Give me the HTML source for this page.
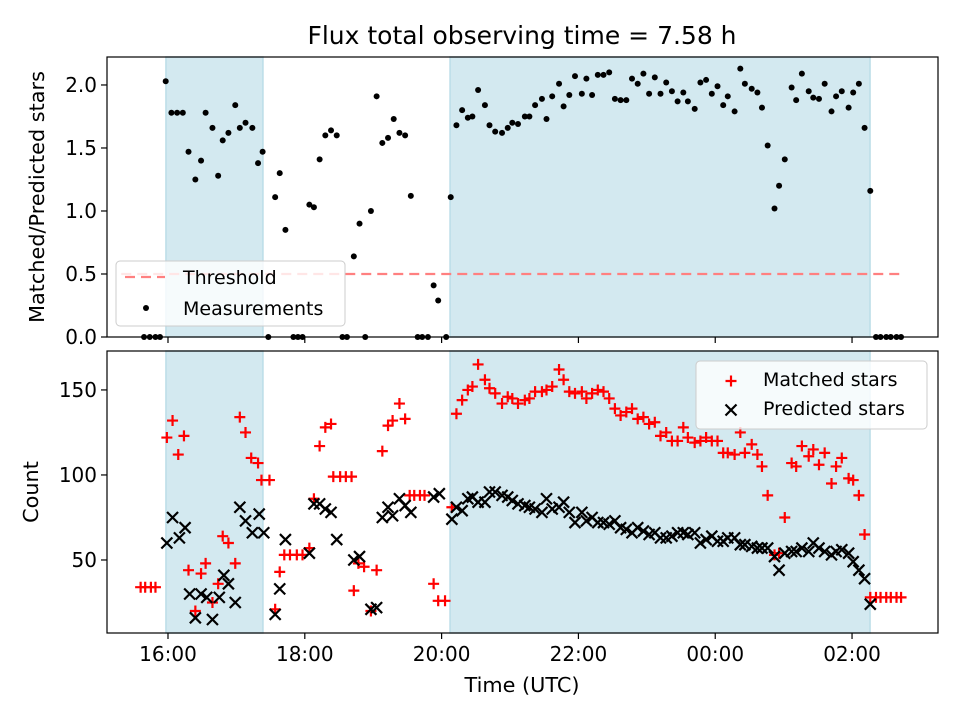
<!DOCTYPE html>
<html><head><meta charset="utf-8"><style>
html,body{margin:0;padding:0;background:#fff;}
svg{display:block;font-family:"DejaVu Sans","Liberation Sans",sans-serif;}
</style></head><body>
<svg id="fig" width="960" height="720" viewBox="0 0 960 720">
<rect width="960" height="720" fill="#fff"/>
<text x="522" y="44" font-size="25" text-anchor="middle">Flux total observing time = 7.58 h</text>
<g id="topPanel"></g>
<g id="botPanel"></g>
<text transform="translate(44,197) rotate(-90)" font-size="20.8" text-anchor="middle">Matched/Predicted stars</text>
<text transform="translate(38,492) rotate(-90)" font-size="20.8" text-anchor="middle">Count</text>
<text x="522" y="692" font-size="20.8" text-anchor="middle">Time (UTC)</text>
</svg>
<script>
// minutes since 16:00 UTC
const ratioTimes=[-21,-16,-11,-7,-2,3,8,13,18,24,29,33,39,44,48,53,59,63,68,74,79,83,88,94,98,103,110,114,118,124,128,133,138,143,148,153,157,163,168,173,178,183,188,193,198,203,208,213,219,223,228,233,237,244,248,253,258,263,267,272,278,282,287,293,298,302,307,313,317,322,328,332,337,343,347,352,357,363,367,372,377,382,387,392,397,402,407,412,417,422,427,432,437,442,447,452,456,462,467,472,477,482,487,491,497,502,506,512,517,521,526,532,536,541,547,551,556,562,566,571,576,582,586,591,597,601,606,611,616,621,625,630,634,639,643];
const ratioValues=[0,0,0,0,2.03,1.78,1.78,1.78,1.47,1.25,1.40,1.78,1.66,1.28,1.56,1.62,1.84,1.66,1.70,1.66,1.38,1.47,0,1.11,1.30,0.85,0,0,0,1.05,1.03,1.41,1.60,1.64,1.60,0,0,0.64,0.90,0,1.00,1.91,1.54,1.58,1.73,1.62,1.60,1.12,0,0,0,0.41,0.29,0,1.11,1.68,1.80,1.74,1.75,1.96,1.84,1.68,1.63,1.62,1.66,1.70,1.69,1.75,1.75,1.84,1.89,1.73,1.91,2.01,1.83,1.92,2.07,1.93,2.05,1.92,2.08,2.08,2.10,1.89,1.88,1.88,2.05,2.01,2.09,1.93,2.06,1.93,2.02,1.95,1.87,1.94,1.87,1.81,2.02,2.04,1.93,1.99,1.84,1.91,1.79,2.13,2.01,1.97,1.94,1.82,1.52,1.02,1.20,1.41,1.98,1.88,2.09,1.95,1.90,1.89,2.01,1.79,1.91,1.95,1.82,1.94,2.01,1.66,1.16,0,0,0,0,0,0];
const matchedTimes=[-24,-20,-15,-11,-1,4,9,14,18,24,29,33,39,44,48,53,59,63,68,73,79,82,89,94,98,102,107,113,118,124,128,133,138,143,145,151,156,161,163,167,172,178,183,188,193,197,203,208,212,216,221,225,233,237,243,249,253,258,263,267,272,278,282,287,293,298,302,307,313,317,322,328,332,337,343,347,352,357,363,367,372,377,382,387,392,397,402,407,412,417,422,427,432,437,442,447,452,456,462,467,472,477,482,487,491,497,502,506,512,517,521,526,532,536,541,547,551,556,562,566,571,576,582,586,591,597,601,606,611,616,621,625,630,634,639,643];
const matchedValues=[34,34,34,34,122,132,112,123,44,20,42,48,25,36,64,60,48,134,125,110,107,97,97,21,43,53,53,53,53,57,86,117,128,130,99,99,99,99,32,48,46,20,44,114,129,132,142,133,88,88,88,88,36,26,26,81,136,144,150,152,165,156,151,148,142,146,145,142,144,145,149,149,150,152,162,156,149,148,149,145,148,150,149,145,139,135,137,139,133,134,130,131,123,125,120,120,128,122,119,120,122,120,120,113,113,112,125,113,118,112,105,88,53,54,75,107,105,117,111,115,106,113,95,105,110,98,97,88,65,28,28,28,28,28,28,28];
const predictedTimes=[-1,4,10,15,19,24,29,34,39,45,49,53,59,63,68,74,80,84,94,98,103,124,128,133,138,143,148,163,168,178,183,188,193,197,203,208,213,233,238,249,253,258,263,267,272,278,282,287,293,298,302,307,313,317,322,328,332,337,343,347,352,357,363,367,372,377,382,387,392,397,402,407,412,417,422,427,432,437,442,447,452,456,462,467,472,477,482,487,491,497,502,506,512,517,521,526,532,536,541,547,551,556,562,566,571,576,582,586,591,597,601,606,611,616];
const predictedValues=[60,75,63,69,30,16,30,28,15,28,41,36,25,81,73,66,77,66,18,33,62,54,83,83,80,78,62,50,52,21,22,75,81,76,86,82,78,87,89,74,81,79,86,87,84,84,90,90,88,87,85,83,82,81,80,78,86,80,81,84,78,72,78,73,75,72,72,71,73,69,68,66,69,67,65,66,63,63,64,66,66,65,66,60,62,64,61,61,63,63,59,59,58,57,57,57,52,44,54,55,55,57,55,60,57,55,53,55,56,54,49,44,39,24];
const xTickValues=[0,120,240,360,480,600];
const xTickLabels=["16:00","18:00","20:00","22:00","00:00","02:00"];
const ratioTicks=[0,0.5,1.0,1.5,2.0];
const ratioTickLabels=["0.0","0.5","1.0","1.5","2.0"];
const countTicks=[50,100,150];
const countTickLabels=["50","100","150"];
const shadedStart=[-1.8,247.4];
const shadedEnd=[83.3,615.8];
const thresholdValue=0.5;
const thresholdRange=[-41,644];

const NS="http://www.w3.org/2000/svg";
const L=107,R=938;
const xMin=-53.5,xMax=675.4;
const X=m=>L+(m-xMin)/(xMax-xMin)*(R-L);
const TP={top:57,bottom:337},BP={top:351,bottom:633};
const yR=v=>TP.bottom-(v-0)/(2.222-0)*(TP.bottom-TP.top);
const yC=v=>BP.bottom-(v-7.06)/(172.9-7.06)*(BP.bottom-BP.top);
function mk(tag,attrs,parent){const e=document.createElementNS(NS,tag);for(const k in attrs)e.setAttribute(k,attrs[k]);parent.appendChild(e);return e;}
const topG=document.getElementById('topPanel'),botG=document.getElementById('botPanel');

function panel(g,P,yf,ticks,labels,showX,nm){
  for(let i=0;i<shadedStart.length;i++){
    const r=mk('rect',{x:X(shadedStart[i]),y:P.top,width:X(shadedEnd[i])-X(shadedStart[i]),height:P.bottom-P.top,fill:'#d3e9f0',stroke:'#bcdde8','stroke-width':1.5},g);
    
    
  }
  ticks.forEach((t,i)=>{
    const y=yf(t);
    const l=mk('line',{x1:L-6,x2:L,y1:y,y2:y,stroke:'#000','stroke-width':1.2},g);
    
    
    const tx=mk('text',{x:L-10,y:y+7,'font-size':20,'text-anchor':'end'},g);
    tx.textContent=labels[i];
    
    
  });
  xTickValues.forEach((t,i)=>{
    const x=X(t);
    const l=mk('line',{x1:x,x2:x,y1:P.bottom,y2:P.bottom+6,stroke:'#000','stroke-width':1.2},g);
    
    
    if(showX){
      const tx=mk('text',{x:x,y:P.bottom+28,'font-size':20,'text-anchor':'middle'},g);
      tx.textContent=xTickLabels[i];
      
      
    }
  });
}
panel(topG,TP,yR,ratioTicks,ratioTickLabels,false,'ratio');
panel(botG,BP,yC,countTicks,countTickLabels,true,'count');

const th=mk('line',{x1:X(thresholdRange[0]),x2:X(thresholdRange[1]),y1:yR(thresholdValue),y2:yR(thresholdValue),stroke:'#ff8080','stroke-width':2.2,'stroke-dasharray':'10,6'},topG);



ratioTimes.forEach((t,i)=>{
  const c=mk('circle',{cx:X(t),cy:yR(ratioValues[i]),r:3,fill:'#000'},topG);
  
  
});
function plus(g,x,y,s){return mk('path',{d:`M${x-s},${y}H${x+s}M${x},${y-s}V${y+s}`,stroke:'#ff0000','stroke-width':2.2,fill:'none'},g);}
function cross(g,x,y,s){return mk('path',{d:`M${x-s},${y-s}L${x+s},${y+s}M${x-s},${y+s}L${x+s},${y-s}`,stroke:'#000','stroke-width':2.2,fill:'none'},g);}
matchedTimes.forEach((t,i)=>{
  const p=plus(botG,X(t),yC(matchedValues[i]),5.5);
  
  
});
predictedTimes.forEach((t,i)=>{
  const p=cross(botG,X(t),yC(predictedValues[i]),5.5);
  
  
});

[[TP,topG,'ratio'],[BP,botG,'count']].forEach(([P,g,nm])=>{
  const f=mk('rect',{x:L,y:P.top,width:R-L,height:P.bottom-P.top,fill:'none',stroke:'#000','stroke-width':1.2},g);
  
  
});

const lg1=mk('g',{},topG);


mk('rect',{x:116,y:261,width:229,height:65,rx:4,fill:'#fff','fill-opacity':0.8,stroke:'#cccccc','stroke-width':1},lg1);
mk('line',{x1:125,x2:165,y1:277,y2:277,stroke:'#ff8080','stroke-width':2.2,'stroke-dasharray':'10,6'},lg1);
let t1=mk('text',{x:183,y:284,'font-size':19},lg1);t1.textContent='Threshold';


mk('circle',{cx:146,cy:308,r:3,fill:'#000'},lg1);
let t2=mk('text',{x:183,y:315,'font-size':19},lg1);t2.textContent='Measurements';



const lg2=mk('g',{},botG);


mk('rect',{x:696,y:361,width:231,height:68,rx:4,fill:'#fff','fill-opacity':0.8,stroke:'#cccccc','stroke-width':1},lg2);
plus(lg2,731,381,5.5);
let t3=mk('text',{x:763,y:386,'font-size':19},lg2);t3.textContent='Matched stars';


cross(lg2,731,410,5.5);
let t4=mk('text',{x:763,y:415,'font-size':19},lg2);t4.textContent='Predicted stars';


</script>
</body></html>
